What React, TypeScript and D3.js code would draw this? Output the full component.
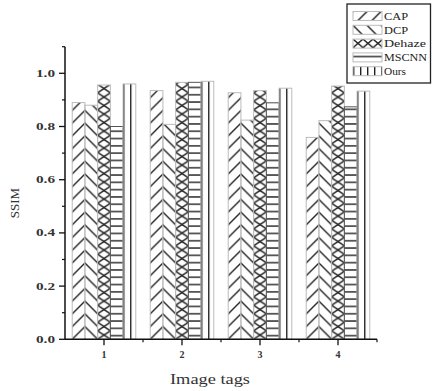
import React from 'react';
import * as d3 from 'd3';

// categories and series
var TAGS = [1, 2, 3, 4];
var SERIES = ['CAP', 'DCP', 'Dehaze', 'MSCNN', 'Ours'];
var CAP = [0.89, 0.935, 0.927, 0.759];
var DCP = [0.88, 0.808, 0.824, 0.822];
var DEHAZE = [0.956, 0.966, 0.935, 0.952];
var MSCNN = [0.80, 0.966, 0.889, 0.874];
var OURS = [0.96, 0.97, 0.944, 0.933];
var VALUES = [CAP, DCP, DEHAZE, MSCNN, OURS];
var Y_TICKS = [0, 0.2, 0.4, 0.6, 0.8, 1.0];
var Y_MINOR = [0.1, 0.3, 0.5, 0.7, 0.9, 1.1];
var X_MINOR = [1.5, 2.5, 3.5, 4.5];
var LEGEND_TEXT_W = [24, 24, 42, 43, 22];

var W = 432;
var H = 391;
var BAR = 0.163; // bar width in category units
var INK = '#222';
var EDGE = '#bbb';

function patternFor(kind: string, id: string, x: number, y: number, bw: number) {
  var sw = 1.4;
  if (kind === 'CAP') {
    return (
      <pattern key={id} id={id} patternUnits="userSpaceOnUse" x={x} y={y} width={bw} height={bw}>
        <line x1={0} y1={bw} x2={bw} y2={0} stroke={INK} strokeWidth={sw} />
        <line x1={-1} y1={1} x2={1} y2={-1} stroke={INK} strokeWidth={sw} />
        <line x1={bw - 1} y1={bw + 1} x2={bw + 1} y2={bw - 1} stroke={INK} strokeWidth={sw} />
      </pattern>
    );
  }
  if (kind === 'DCP') {
    return (
      <pattern key={id} id={id} patternUnits="userSpaceOnUse" x={x} y={y} width={bw} height={bw}>
        <line x1={0} y1={0} x2={bw} y2={bw} stroke={INK} strokeWidth={sw} />
        <line x1={-1} y1={bw - 1} x2={1} y2={bw + 1} stroke={INK} strokeWidth={sw} />
        <line x1={bw - 1} y1={-1} x2={bw + 1} y2={1} stroke={INK} strokeWidth={sw} />
      </pattern>
    );
  }
  if (kind === 'Dehaze') {
    var h = 8.5;
    return (
      <pattern key={id} id={id} patternUnits="userSpaceOnUse" x={x} y={y} width={bw} height={h}>
        <line x1={0} y1={0} x2={bw} y2={h} stroke={INK} strokeWidth={sw} />
        <line x1={0} y1={h} x2={bw} y2={0} stroke={INK} strokeWidth={sw} />
      </pattern>
    );
  }
  if (kind === 'MSCNN') {
    var s = 7.3;
    return (
      <pattern key={id} id={id} patternUnits="userSpaceOnUse" x={x} y={y} width={bw} height={s}>
        <line x1={0} y1={s / 2} x2={bw} y2={s / 2} stroke={INK} strokeWidth={sw} />
      </pattern>
    );
  }
  var v = 7;
  return (
    <pattern key={id} id={id} patternUnits="userSpaceOnUse" x={x} y={y} width={v} height={10}>
      <line x1={0.7} y1={0} x2={0.7} y2={10} stroke={INK} strokeWidth={sw} />
    </pattern>
  );
}

export default function App() {
  var x = d3.scaleLinear().domain([0.5, 4.5]).range([65, 377]);
  var y = d3.scaleLinear().domain([0, 1.1]).range([339.3, 46.7]);
  var bw = x(BAR) - x(0);

  var defs: any[] = [];
  var bars: any[] = [];
  TAGS.forEach(function (t, gi) {
    SERIES.forEach(function (s, si) {
      var x0 = x(t - 2.5 * BAR + si * BAR);
      var v = VALUES[si][gi];
      var id = 'p-' + s + '-' + gi;
      defs.push(patternFor(s, id, x0, y(0), bw));
      bars.push(
        <rect key={id} x={x0} y={y(v)} width={bw} height={y(0) - y(v)}
          fill={'url(#' + id + ')'} stroke={s === 'MSCNN' ? '#555' : EDGE} strokeWidth={1} />
      );
    });
  });

  // legend
  var lx = 353, lw = 29, lh = 9;
  var legendRows = SERIES.map(function (s, i) {
    var cy = 16 + i * 13.8;
    var id = 'lg-' + s;
    defs.push(patternFor(s, id, lx, cy - lh / 2, s === 'Dehaze' ? 10 : 14));
    return (
      <g key={s}>
        <rect x={lx} y={cy - lh / 2} width={lw} height={lh} fill={'url(#' + id + ')'} stroke={EDGE} />
        <text x={384} y={cy + 3.8} fontSize={11} fill="#222" textLength={LEGEND_TEXT_W[i]}
          lengthAdjust="spacingAndGlyphs">{s}</text>
      </g>
    );
  });

  return (
    <svg width={W} height={H} style={{ position: 'absolute', left: 0, top: 0, background: '#fff' }}
      fontFamily="Liberation Serif, serif">
      <defs>{defs}</defs>
      <rect x={0} y={0} width={W} height={H} fill="#fff" />
      {bars}

      {/* y axis */}
      <line x1={65} y1={y(1.1)} x2={65} y2={y(0)} stroke="#111" strokeWidth={1.5} />
      {Y_TICKS.map(function (t) {
        return (
          <g key={'yt' + t}>
            <line x1={59} x2={65} y1={y(t)} y2={y(t)} stroke="#111" strokeWidth={1.3} />
            <text x={55} y={y(t) + 3.5} fontSize={10} fontWeight="bold" textAnchor="end"
              textLength={19} lengthAdjust="spacingAndGlyphs" fill="#333">{t.toFixed(1)}</text>
          </g>
        );
      })}
      {Y_MINOR.map(function (t) {
        return <line key={'ym' + t} x1={62} x2={65} y1={y(t)} y2={y(t)} stroke="#111" strokeWidth={1.2} />;
      })}

      {/* x axis */}
      <line x1={65} y1={y(0)} x2={x(4.5)} y2={y(0)} stroke="#111" strokeWidth={1.5} />
      {TAGS.map(function (t) {
        return (
          <g key={'xt' + t}>
            <line x1={x(t)} x2={x(t)} y1={y(0)} y2={y(0) + 6} stroke="#111" strokeWidth={1.3} />
            <text x={x(t)} y={358} fontSize={10} fontWeight="bold" textAnchor="middle" fill="#333">{t}</text>
          </g>
        );
      })}
      {X_MINOR.map(function (t) {
        return <line key={'xm' + t} x1={x(t)} x2={x(t)} y1={y(0)} y2={y(0) + 3} stroke="#111" strokeWidth={1.2} />;
      })}

      <text x={210} y={384} fontSize={14} textAnchor="middle" fill="#333"
        textLength={80} lengthAdjust="spacingAndGlyphs">Image tags</text>
      <text transform="translate(19,203) rotate(-90)" fontSize={13} textAnchor="middle" fill="#333">SSIM</text>

      {/* legend */}
      <rect x={347} y={4} width={83.5} height={79} fill="#fff" stroke="#222" strokeWidth={1.3} />
      {legendRows}
    </svg>
  );
}
